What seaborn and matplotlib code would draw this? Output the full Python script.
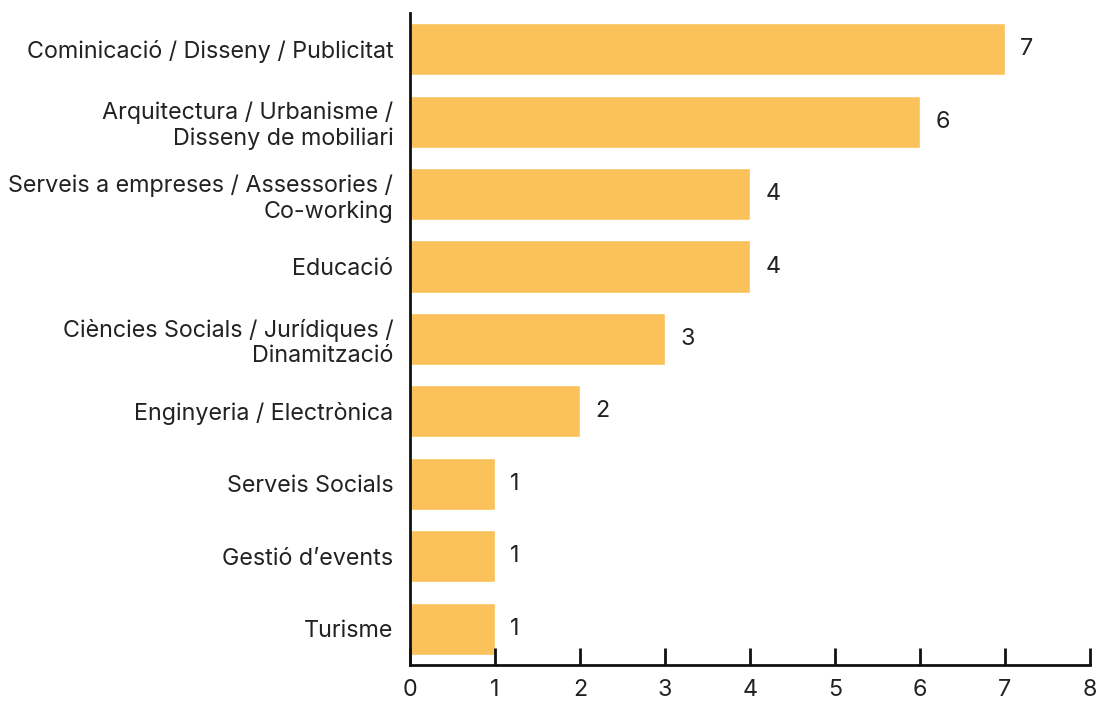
import pandas as pd
import matplotlib.pyplot as plt
import seaborn as sns

# Data
categories = [
    "Cominicació / Disseny / Publicitat",
    "Arquitectura / Urbanisme /\nDisseny de mobiliari",
    "Serveis a empreses / Assessories /\nCo-working",
    "Educació",
    "Ciències Socials / Jurídiques /\nDinamització",
    "Enginyeria / Electrònica",
    "Serveis Socials",
    "Gestió d’events",
    "Turisme",
]
values = [7, 6, 4, 4, 3, 2, 1, 1, 1]
x_ticks = [0, 1, 2, 3, 4, 5, 6, 7, 8]

df = pd.DataFrame({"Sector": categories, "Count": values})

sns.set_style("white")
plt.rcParams["font.family"] = ["Inter", "DejaVu Sans"]

fig = plt.figure(figsize=(10.98, 7.01), dpi=100)
ax = fig.add_axes([0.3734, 0.0514, 0.6193, 0.9301])

sns.barplot(data=df, x="Count", y="Sector", color="#FBC15A", saturation=1,
            width=0.72, ax=ax, zorder=1)

for i, v in enumerate(values):
    ax.annotate(str(v), (v, i), xytext=(11, 0), textcoords="offset points",
                ha="left", va="center", fontsize=16.8, color="#222222")

ax.set_xlim(0, 8)
ax.set_ylim(8.5, -0.5)
ax.set_xticks(x_ticks)
ax.set_xlabel("")
ax.set_ylabel("")
ax.set_axisbelow(False)

for side in ["top", "right"]:
    ax.spines[side].set_visible(False)
for side in ["left", "bottom"]:
    ax.spines[side].set_linewidth(2)
    ax.spines[side].set_color("#111111")

ax.tick_params(axis="x", bottom=True, direction="in", length=12, width=2,
               color="#111111", labelsize=16.8, labelcolor="#222222", pad=10)
ax.tick_params(axis="y", left=False, length=0, labelsize=16.8,
               labelcolor="#222222", pad=12)
for lab in ax.get_yticklabels():
    lab.set_horizontalalignment("right")
    lab.set_multialignment("right")
    lab.set_linespacing(1.2)

fig.savefig("out.png", dpi=100)
